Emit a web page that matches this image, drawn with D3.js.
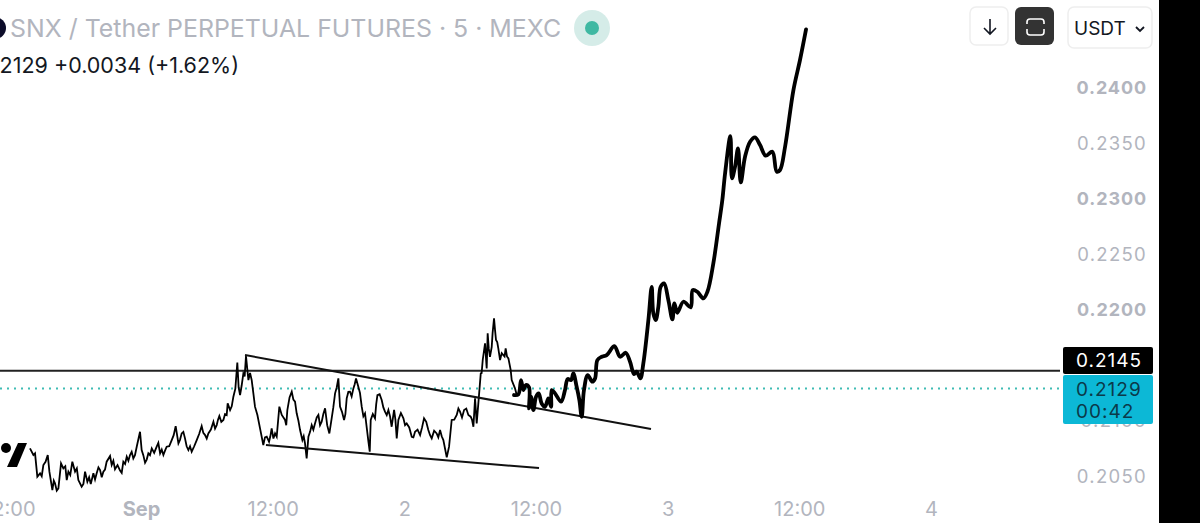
<!DOCTYPE html>
<html>
<head>
<meta charset="utf-8">
<script src="https://cdn.jsdelivr.net/npm/d3@7"></script>
<style>
  html, body { margin: 0; padding: 0; background: #fff; overflow: hidden; }
  text { font-family: Inter, "Noto Sans", sans-serif; }
</style>
</head>
<body>
<div id="chart"></div>
<script>
// all x values are hours from Sep 1 00:00
const candleHours = [-10.12,-9.81,-9.66,-9.45,-9.20,-8.90,-8.50,-8.35,-8.08,-7.84,-7.53,-7.29,-7.08,-6.77,-6.62,-6.26,-6.01,-5.71,-5.41,-5.10,-4.89,-4.58,-4.34,-4.04,-3.73,-3.43,-3.13,-2.82,-2.67,-2.37,-1.91,-1.61,-1.30,-1.00,-0.70,-0.39,-0.09,0.06,0.37,0.67,0.98,1.43,1.74,2.04,2.34,2.80,3.16,3.41,3.71,4.01,4.32,4.62,5.08,5.53,5.84,6.14,6.60,6.90,7.14,7.51,7.81,7.90,8.12,8.42,8.78,9.03,9.33,9.57,9.79,10.09,10.39,10.61,10.85,11.15,11.46,11.67,11.91,12.22,12.37,12.61,12.83,13.13,13.34,13.74,14.04,14.19,14.50,14.71,14.95,15.10,15.26,15.56,15.86,16.17,16.47,16.78,17.17,17.38,17.69,17.99,18.14,18.51,18.75,19.05,19.36,19.60,19.81,20.12,20.42,20.73,20.85,20.94,21.33,21.55,21.94,22.24,22.55,22.85,23.07,23.31,23.46,23.92,24.22,24.68,24.98,25.44,25.80,26.19,26.50,26.95,27.26,27.56,27.87,28.08,28.32,28.78,29.08,29.45,29.84,30.05,30.30,30.45,30.60,30.75,30.97,31.15,31.36,31.51,31.60,31.81,31.97,32.18,32.36,32.57,32.73,33.03,33.24,33.49,33.70,33.79,34.09,34.25];
const candlePrices = [.20751,.20691,.20706,.20496,.20526,.20601,.20691,.20541,.20375,.20435,.20390,.20616,.20571,.20465,.20541,.20631,.20541,.20465,.20405,.20541,.20450,.20429,.20526,.20526,.20556,.20541,.20631,.20682,.20601,.20562,.20550,.20631,.20676,.20691,.20661,.20766,.20901,.20736,.20622,.20706,.20751,.20766,.20706,.20691,.20766,.20826,.20952,.20796,.20886,.20841,.20736,.20721,.20826,.20952,.20871,.20886,.20991,.20961,.21043,.21007,.21052,.21157,.21097,.21217,.21524,.21232,.21427,.21584,.21367,.21367,.21127,.21052,.20931,.20781,.20856,.20811,.20931,.20886,.20856,.21127,.21052,.21007,.21097,.21262,.21172,.21067,.20916,.20826,.20796,.20661,.20856,.20961,.20976,.21052,.20991,.21112,.20886,.21022,.21247,.21382,.21127,.21007,.21202,.21262,.21292,.21382,.21307,.21127,.21067,.20811,.20721,.21007,.21022,.21232,.21187,.21082,.21097,.20946,.21097,.20841,.21007,.21022,.20976,.20856,.20901,.20871,.21022,.20916,.20841,.20886,.20916,.20826,.20670,.20766,.21007,.21052,.21082,.21097,.21052,.21037,.20946,.21202,.20976,.21157,.21427,.21548,.21698,.21472,.21788,.21577,.21667,.21923,.21728,.21652,.21547,.21592,.21652,.21562,.21457,.21367,.21292,.21232];

// small wicks between the points above, they make the line look dense like the candles do
const wickHours = [-9.05,-8.70,-7.95,-7.68,-6.90,-6.45,-5.85,-5.25,-4.73,-4.19,-3.88,-3.58,-3.28,-2.52,-2.14,-1.76,-1.45,-1.15,-0.85,-0.55,0.21,0.52,0.82,1.20,1.58,1.89,2.19,2.57,2.98,3.56,3.86,4.16,4.47,4.85,5.30,5.68,5.99,6.37,6.75,7.02,7.32,7.66,8.27,8.60,8.90,9.18,9.45,9.94,10.24,11.30,11.79,12.07,13.24,13.54,13.89,14.35,14.83,15.41,15.71,16.02,16.32,16.62,16.97,17.53,17.84,18.32,18.63,18.90,19.20,19.48,19.96,20.27,21.13,21.44,21.75,22.09,22.40,22.70,23.19,23.69,24.07,24.45,24.83,25.21,25.62,26.00,26.35,26.72,27.10,27.41,28.55,28.93,29.26,29.65,30.17,31.05,31.70,32.05,32.27,32.47,32.88,33.14,33.36];
const wickPrices = [.20500,.20630,.20460,.20370,.20590,.20510,.20570,.20430,.20490,.20470,.20580,.20490,.20560,.20640,.20600,.20530,.20610,.20640,.20720,.20690,.20690,.20650,.20690,.20710,.20800,.20740,.20730,.20770,.20870,.20830,.20900,.20770,.20770,.20770,.20880,.20890,.20840,.20920,.20930,.21010,.20990,.21060,.21130,.21290,.21300,.21320,.21400,.21430,.21250,.20850,.20860,.20840,.20960,.21210,.21190,.21000,.20860,.20900,.20920,.21030,.20960,.21060,.20960,.21120,.21300,.21080,.21060,.21260,.21220,.21330,.21250,.21040,.21060,.21150,.21240,.21120,.21050,.21040,.21010,.21070,.20960,.20940,.20850,.20920,.20940,.20990,.20870,.20910,.20850,.20860,.21010,.21110,.21030,.21110,.21010,.21430,.21650,.21790,.21820,.21710,.21610,.21580,.21580];

// the hand drawn projection
const sketchHours = [34.00,34.40,34.64,34.85,35.07,35.37,35.37,35.55,35.77,36.01,36.25,36.52,36.83,37.13,37.38,37.44,37.74,38.29,38.65,38.89,39.20,39.41,39.71,39.96,40.17,40.38,40.72,41.14,41.39,41.60,41.99,42.45,43.15,43.67,44.18,44.58,44.94,45.18,45.52,45.79,46.25,46.55,46.70,46.92,47.16,47.37,47.68,48.07,48.44,48.62,48.89,49.44,50.11,50.29,50.71,51.26,51.63,52.17,52.69,52.99,53.24,53.72,53.87,54.15,54.42,54.67,55.06,55.52,55.97,56.43,56.94,57.55,57.95,58.25,58.71,59.47,60.07,60.62];
const sketchPrices = [.21232,.21238,.21367,.21277,.21322,.21301,.21111,.21217,.21096,.21217,.21247,.21156,.21126,.21202,.21126,.21277,.21247,.21172,.21277,.21376,.21367,.21427,.21307,.21186,.21036,.21277,.21412,.21352,.21382,.21547,.21577,.21592,.21673,.21577,.21613,.21532,.21421,.21442,.21382,.21517,.21908,.22208,.21968,.21908,.22028,.22208,.22239,.22088,.21914,.22058,.21974,.22073,.22022,.22178,.22163,.22103,.22163,.22419,.22779,.22990,.23230,.23567,.23185,.23291,.23456,.23149,.23381,.23516,.23555,.23486,.23390,.23426,.23245,.23261,.23471,.23982,.24253,.24529];

// wedge lines
const upperTrendHours = [9.48, 46.49];
const upperTrendPrices = [.21592, .20925];
const lowerTrendHours = [11.39, 36.28];
const lowerTrendPrices = [.20781, .20573];

const levelPrice = 0.2145;
const lastPrice = 0.2129;

const priceTicks = [0.24, 0.235, 0.23, 0.225, 0.22, 0.21, 0.205];
const boldPriceTicks = [0.24, 0.23, 0.22];
const timeTicks = [-12, 0, 12, 24, 36, 48, 60, 72];
const timeLabels = ["12:00", "Sep", "12:00", "2", "12:00", "3", "12:00", "4"];

const width = 1200, height = 523, plotRight = 1060;

const svg = d3.select("#chart").append("svg")
    .attr("width", width)
    .attr("height", height)
    .style("display", "block");

const x = d3.scaleLinear().domain([-12.853, 83.77]).range([0, plotRight]);
const y = d3.scaleLinear().domain([0.20078, 0.24794]).range([height, 0]);

const line = (hours, prices) => d3.line()
    .x((d, i) => x(hours[i]))
    .y((d, i) => y(prices[i]))(prices);

// axes
const yAxis = svg.append("g")
    .attr("transform", "translate(1147,0)")
    .call(d3.axisLeft(y).tickValues(priceTicks).tickSize(0).tickPadding(0).tickFormat(d3.format(".4f")));
yAxis.select(".domain").remove();
yAxis.selectAll("text")
    .style("font-family", "Inter, sans-serif")
    .style("font-size", d => boldPriceTicks.includes(d) ? "18px" : "18.5px")
    .style("letter-spacing", d => boldPriceTicks.includes(d) ? "0.9px" : "1.3px")
    .style("font-weight", d => boldPriceTicks.includes(d) ? 700 : 400)
    .style("fill", "#b2b5be");

const xAxis = svg.append("g")
    .attr("transform", "translate(0,490)")
    .call(d3.axisBottom(x).tickValues(timeTicks).tickSize(0).tickPadding(12)
        .tickFormat((d, i) => timeLabels[i]));
xAxis.select(".domain").remove();
xAxis.selectAll("text")
    .style("font-family", "Inter, sans-serif")
    .style("font-size", "20px")
    .style("font-weight", (d, i) => timeLabels[i] === "Sep" ? 700 : 400)
    .style("fill", "#b2b5be");

// levels
svg.append("line")
    .attr("x1", 0).attr("x2", plotRight)
    .attr("y1", y(lastPrice)).attr("y2", y(lastPrice))
    .style("stroke", "#3fbcb4")
    .style("stroke-width", 2)
    .style("stroke-dasharray", "2 5");

svg.append("line")
    .attr("x1", 0).attr("x2", plotRight)
    .attr("y1", y(levelPrice)).attr("y2", y(levelPrice))
    .style("stroke", "#222")
    .style("stroke-width", 2);

// price, candle points and wicks merged in time order
const pricePoints = candleHours.map((h, i) => [h, candlePrices[i]])
    .concat(wickHours.map((h, i) => [h, wickPrices[i]]))
    .sort((a, b) => a[0] - b[0]);

svg.append("path")
    .attr("d", d3.line().x(d => x(d[0])).y(d => y(d[1]))(pricePoints))
    .style("fill", "none")
    .style("stroke", "#000")
    .style("stroke-width", 1.8)
    .style("stroke-linejoin", "miter");

// wedge
[[upperTrendHours, upperTrendPrices], [lowerTrendHours, lowerTrendPrices]].forEach(t => {
    svg.append("path")
        .attr("d", line(t[0], t[1]))
        .style("fill", "none")
        .style("stroke", "#111")
        .style("stroke-width", 2);
});

// projection
const sketch = d3.line()
    .x((d, i) => x(sketchHours[i]))
    .y((d, i) => y(sketchPrices[i]))
    .curve(d3.curveCatmullRom.alpha(0.5));

svg.append("path")
    .attr("d", sketch(sketchPrices))
    .style("fill", "none")
    .style("stroke", "#000")
    .style("stroke-width", 3.8)
    .style("stroke-linecap", "round")
    .style("stroke-linejoin", "round");

// price tags
svg.append("rect").attr("x", 1063).attr("y", 347).attr("width", 90).attr("height", 27).attr("rx", 2).style("fill", "#000");
svg.append("rect").attr("x", 1063).attr("y", 375).attr("width", 90).attr("height", 49).attr("rx", 2).style("fill", "#0cb8d6");

const tag = (txt, py, color) => svg.append("text")
    .attr("x", 1076).attr("y", py)
    .style("font-size", "19px")
    .style("letter-spacing", "1px")
    .style("fill", color)
    .text(txt);
tag(d3.format(".4f")(levelPrice), 367, "#fff");
tag(d3.format(".4f")(lastPrice), 396, "#0b3a4a");
tag("00:42", 418, "#0b3a4a");

// header
svg.append("circle").attr("cx", -5).attr("cy", 28).attr("r", 11).style("fill", "#0c0c2a");
svg.append("text").attr("x", 10).attr("y", 37)
    .style("font-size", "24.9px")
    .style("fill", "#b2b5be")
    .text("SNX / Tether PERPETUAL FUTURES · 5 · MEXC");
svg.append("circle").attr("cx", 592).attr("cy", 28).attr("r", 18).style("fill", "#d5ece8");
svg.append("circle").attr("cx", 592).attr("cy", 28).attr("r", 7).style("fill", "#3fb8a2");
svg.append("text").attr("x", 239).attr("y", 73)
    .attr("text-anchor", "end")
    .style("font-size", "21.5px")
    .style("fill", "#131722")
    .text("0.2129 +0.0034 (+1.62%)");

// logo in the corner
svg.append("circle").attr("cx", 6).attr("cy", 448).attr("r", 5).style("fill", "#000");
svg.append("path").attr("d", "M7,467 L18,443 L27,443 L17,467 Z").style("fill", "#000");

// buttons
const btn = (bx, by, w, h, fill) => svg.append("rect")
    .attr("x", bx).attr("y", by).attr("width", w).attr("height", h).attr("rx", 6)
    .style("fill", fill).style("stroke", fill === "#fff" ? "#eeeeee" : "none").style("stroke-width", 1.5);
btn(970, 7, 38, 38, "#fff");
svg.append("path").attr("d", "M990,19 V34 M984,28 L990,34 L996,28")
    .style("fill", "none").style("stroke", "#131722").style("stroke-width", 1.6);
btn(1015, 7, 39, 38, "#333");
svg.append("path").attr("d", "M1027,24 V22 Q1027,19 1030,19 H1041 Q1044,19 1044,22 V24 M1027,29 V32 Q1027,35 1030,35 H1041 Q1044,35 1044,32 V29")
    .style("fill", "none").style("stroke", "#fff").style("stroke-width", 1.6);
btn(1068, 7, 84, 41, "#fff");
svg.append("text").attr("x", 1074).attr("y", 35)
    .style("font-size", "19px")
    .style("fill", "#131722")
    .text("USDT");
svg.append("path").attr("d", "M1136,27 L1140,31 L1144,27")
    .style("fill", "none").style("stroke", "#131722").style("stroke-width", 1.8);

// black strip on the right of the screenshot
svg.append("rect").attr("x", 1159).attr("y", 0).attr("width", 41).attr("height", height).style("fill", "#000");
</script>
</body>
</html>
